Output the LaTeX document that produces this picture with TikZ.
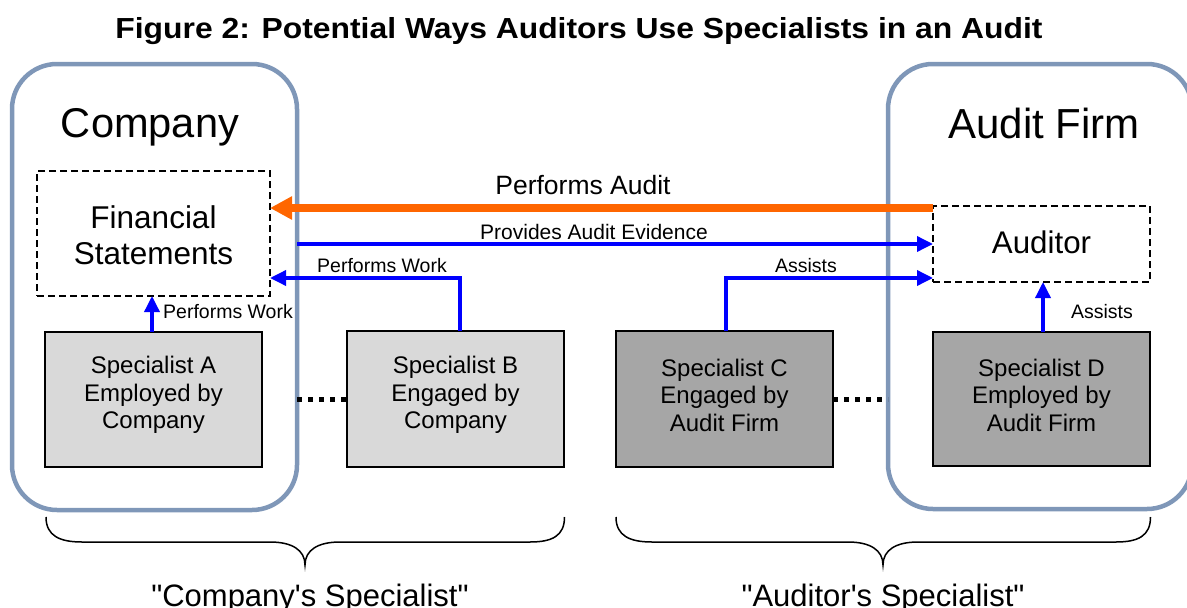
\documentclass[tikz,border=0pt]{standalone}
\usepackage{fontspec}
\setmainfont{Liberation Sans}[Ligatures=TeXOff]
\usetikzlibrary{arrows.meta}
\definecolor{framecol}{HTML}{7F97B8}
\definecolor{lightbox}{HTML}{D9D9D9}
\definecolor{darkbox}{HTML}{A6A6A6}
\definecolor{auditorange}{HTML}{FF6600}
\definecolor{linkblue}{HTML}{0000FF}
\tikzset{
  entity/.style={draw=framecol, line width=4.5pt, rounded corners=45pt, inner sep=0pt, outer sep=0pt},
  dashbox/.style={draw=black, line width=1.3pt, dash pattern=on 7pt off 4pt, inner sep=0pt, outer sep=0pt},
  specbox/.style={draw=black, line width=1.6pt, inner sep=0pt, outer sep=0pt, minimum width=217pt},
  spectext/.style={align=center, font=\fontsize{24}{27.5}\selectfont, inner sep=0pt},
  bluearrow/.style={draw=linkblue, line width=3.5pt, -{Triangle[length=16pt,width=15pt]}},
  smalllabel/.style={font=\fontsize{19.5}{22}\selectfont, inner sep=0pt},
  dots/.style={draw=black, line width=5pt, dash pattern=on 5pt off 6pt},
  bracecurve/.style={draw=black, line width=1.5pt},
  bottomlabel/.style={anchor=base, font=\fontsize{31}{36}\selectfont, inner sep=0pt},
}
\begin{document}
\begin{tikzpicture}[x=1pt,y=-1pt]
\useasboundingbox (0,0) rectangle (1187,608);

% title
\node[anchor=base, font=\bfseries\fontsize{29}{32}\selectfont, inner sep=0pt] (title) at (579,38)
  {\scalebox{1.098}[1]{Figure 2: Potential Ways Auditors Use Specialists in an Audit}};

% entity frames
\node[entity, minimum width=285pt, minimum height=446pt] (company) at (154.5,287) {};
\node[entity, minimum width=304pt, minimum height=445pt] (firm) at (1040,286.5) {};
\node[anchor=base, font=\fontsize{41.6}{46}\selectfont, inner sep=0pt] (companylbl) at (150,137) {Company};
\node[anchor=base, font=\fontsize{42}{46}\selectfont, inner sep=0pt] (firmlbl) at (1044,138) {Audit Firm};

% dashed boxes
\node[dashbox, minimum width=233pt, minimum height=125pt] (fs) at (153.5,233.5) {};
\node[align=center, font=\fontsize{31.5}{36}\selectfont, inner sep=0pt] (fstext) at (153.5,235)
  {Financial\\Statements};
\node[dashbox, minimum width=217pt, minimum height=76pt] (auditor) at (1041.5,244) {};
\node[font=\fontsize{31.3}{36}\selectfont, inner sep=0pt] (auditortext) at (1041.5,242) {Auditor};

% specialist boxes
\node[specbox, fill=lightbox, minimum height=135pt] (spA) at (153.5,399.5) {};
\node[specbox, fill=lightbox, minimum height=136pt] (spB) at (455.5,399) {};
\node[specbox, fill=darkbox, minimum height=136pt] (spC) at (724.5,399) {};
\node[specbox, fill=darkbox, minimum height=134pt] (spD) at (1041.5,399) {};
\node[spectext] (tA) at (153.5,395) {Specialist A\\Employed by\\Company};
\node[spectext] (tB) at (455.5,395) {Specialist B\\Engaged by\\Company};
\node[spectext] (tC) at (724.5,395) {Specialist C\\Engaged by\\Audit Firm};
\node[spectext] (tD) at (1041.5,395) {Specialist D\\Employed by\\Audit Firm};

% dotted links
\draw[dots] (company.east |- spA.east) -- (spB.west |- spA.east);
\draw[dots] (spC.east) -- (firm.west |- spC.east);

% orange arrow
\draw[draw=auditorange, line width=8pt, -{Triangle[length=22pt,width=22pt]}]
  ([yshift=-2pt]auditor.north west) -- ([yshift=-2pt]auditor.north west -| fs.east);
\node[font=\fontsize{26.5}{30}\selectfont, inner sep=0pt] (palbl) at (583,185) {Performs Audit};

% provides audit evidence
\draw[bluearrow] (company.east |- auditor.west) -- (auditor.west);
\node[font=\fontsize{21}{24}\selectfont, inner sep=0pt] (palbl2) at (594,232) {Provides Audit Evidence};

% performs work / assists routed arrows
\coordinate (lvl) at (0,278);
\draw[bluearrow] ([xshift=4.5pt]spB.north) -- ([xshift=4.5pt]spB.north |- lvl) -- (fs.east |- lvl);
\node[smalllabel] (pwB) at (382,266) {Performs Work};
\draw[bluearrow] ([xshift=1.5pt]spC.north) -- ([xshift=1.5pt]spC.north |- lvl) -- (auditor.west |- lvl);
\node[smalllabel] (asC) at (806,266) {Assists};

% vertical arrows
\draw[bluearrow] ([xshift=-1.5pt]spA.north) -- ([xshift=-1.5pt]fs.south);
\node[smalllabel] (pwA) at (228,312) {Performs Work};
\draw[bluearrow] ([xshift=1.5pt]spD.north) -- ([xshift=1.5pt]auditor.south);
\node[smalllabel] (asD) at (1102,312) {Assists};

% braces
\draw[bracecurve] (46,517) .. controls (46,536) and (60,542) .. (82,542) -- (270,542)
  .. controls (292,542) and (305,550) .. (305,565)
  .. controls (305,550) and (318,542) .. (340,542) -- (530,542)
  .. controls (552,542) and (564.5,536) .. (564.5,517);
\draw[bracecurve] (616,517) .. controls (616,536) and (630,542) .. (652,542) -- (848,542)
  .. controls (870,542) and (883,550) .. (883,565)
  .. controls (883,550) and (896,542) .. (918,542) -- (1116,542)
  .. controls (1138,542) and (1150.5,536) .. (1150.5,517);
\node[bottomlabel] (cslbl) at (310,606) {"Company's Specialist"};
\node[bottomlabel] (aslbl) at (883,606) {"Auditor's Specialist"};
\end{tikzpicture}
\end{document}
